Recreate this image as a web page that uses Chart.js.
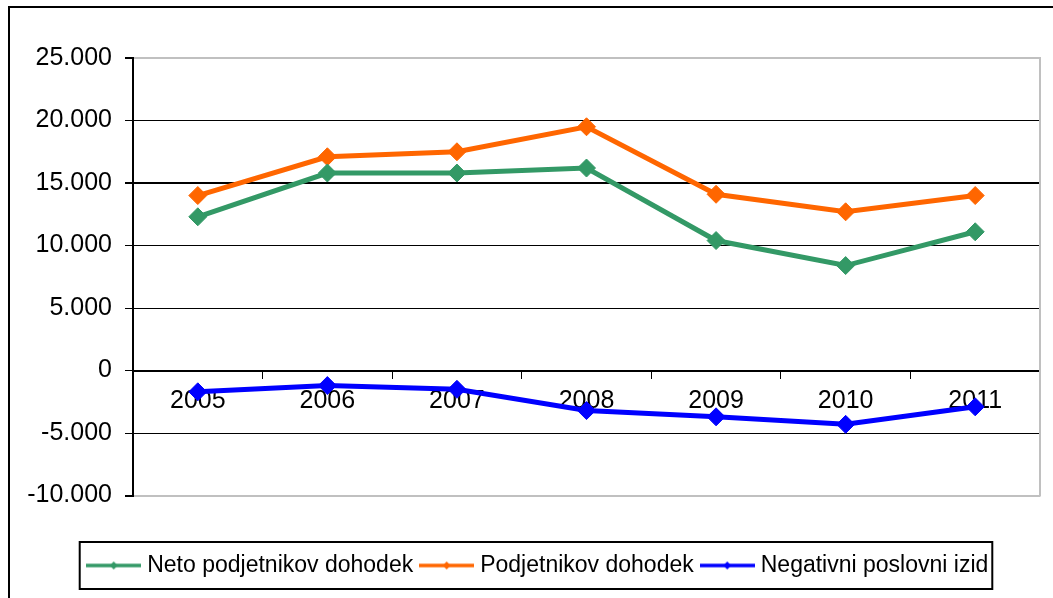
<!DOCTYPE html>
<html>
<head>
<meta charset="utf-8">
<script src="https://cdn.jsdelivr.net/npm/chart.js@4"></script>
<style>
    html, body { margin: 0; padding: 0; background: #fff; }
    #frame {
        position: absolute; left: 8px; top: 6px; width: 1045px; height: 592px;
        border-left: 2px solid #000; border-top: 2px solid #000;
    }
    #chart { display: block; }
</style>
</head>
<body>
<div id="frame"><canvas id="chart" width="1043" height="590"></canvas></div>
<script>
const years   = ['2005', '2006', '2007', '2008', '2009', '2010', '2011'];
const neto    = [12300, 15800, 15800, 16200, 10400, 8400, 11100];
const podj    = [14000, 17100, 17500, 19500, 14100, 12700, 14000];
const negIzid = [-1700, -1200, -1500, -3200, -3700, -4300, -2900];

const seriesNames  = ['Neto podjetnikov dohodek', 'Podjetnikov dohodek', 'Negativni poslovni izid'];
const seriesColors = ['#339966', '#FF6600', '#0000FF'];

Chart.defaults.font.family = '"Liberation Sans", Arial, sans-serif';
Chart.defaults.color = '#000';

// "line + diamond" swatch for the legend
function swatch(color) {
    const c = document.createElement('canvas');
    c.width = 55; c.height = 10;
    const g = c.getContext('2d');
    g.strokeStyle = color; g.lineWidth = 3.5;
    g.beginPath(); g.moveTo(0, 5); g.lineTo(55, 5); g.stroke();
    g.fillStyle = color;
    g.beginPath(); g.moveTo(27.5, 1); g.lineTo(31.5, 5); g.lineTo(27.5, 9); g.lineTo(23.5, 5); g.closePath(); g.fill();
    return c;
}

const fmt = v => v.toLocaleString('de-DE');

function lineSet(i, data) {
    return {
        label: seriesNames[i],
        data,
        borderColor: seriesColors[i],
        backgroundColor: seriesColors[i],
        borderWidth: 5,
        pointStyle: 'rectRot',
        pointRadius: 9,
        pointHoverRadius: 9,
        pointBorderWidth: 1,
        tension: 0,
    };
}

const LEGEND_NUDGE = 7;

// right edge of the plot frame + box round the legend
const frames = {
    id: 'frames',
    afterLayout(chart) {
        // nudge the legend a little to the right, like the original
        const lg = chart.legend;
        if (!lg) return;
        lg.left += LEGEND_NUDGE; lg.right += LEGEND_NUDGE;
        for (const hb of lg.legendHitBoxes || []) hb.left += LEGEND_NUDGE;
    },
    beforeDatasetsDraw(chart) {
        const { ctx, chartArea } = chart;
        ctx.save();
        ctx.strokeStyle = '#C0C0C0'; ctx.lineWidth = 2;
        ctx.beginPath();
        ctx.moveTo(chartArea.right, chartArea.top - 1);
        ctx.lineTo(chartArea.right, chartArea.bottom + 1);
        ctx.stroke();
        ctx.restore();
    },
    afterDraw(chart) {
        const boxes = chart.legend && chart.legend.legendHitBoxes;
        if (!boxes || !boxes.length) return;
        const first = boxes[0], last = boxes[boxes.length - 1];
        const { ctx } = chart;
        const l = first.left - 12, r = last.left + last.width + 4;
        const t = first.top - 12, b = first.top + first.height + 12;
        ctx.save();
        ctx.strokeStyle = '#000'; ctx.lineWidth = 2;
        ctx.strokeRect(l, t, r - l, b - t);
        ctx.restore();
    },
};

new Chart(document.getElementById('chart'), {
    type: 'line',
    data: {
        labels: years,
        datasets: [lineSet(0, neto), lineSet(1, podj), lineSet(2, negIzid)],
    },
    options: {
        responsive: false,
        animation: false,
        layout: { padding: { left: 16, right: 13, top: 50, bottom: 11 } },
        plugins: {
            tooltip: { enabled: false },
            legend: {
                position: 'bottom',
                title: { display: true, text: '', padding: { top: 32.5, bottom: 0 } },
                labels: {
                    font: { size: 23 },
                    color: '#000',
                    usePointStyle: true,
                    pointStyleWidth: 44,
                    padding: 11.5,
                    generateLabels(chart) {
                        return chart.data.datasets.map((ds, i) => ({
                            text: ds.label,
                            pointStyle: swatch(ds.borderColor),
                            datasetIndex: i,
                            lineWidth: 0,
                            fontColor: '#000',
                            hidden: false,
                        }));
                    },
                },
            },
        },
        scales: {
            x: {
                position: { y: 0 },
                offset: true,
                border: { color: '#000', width: 2 },
                grid: { drawOnChartArea: false, drawTicks: true, tickLength: 7, tickColor: '#000', offset: true },
                ticks: { font: { size: 25 }, color: '#000', padding: 9, maxRotation: 0 },
            },
            y: {
                min: -10000,
                max: 25000,
                afterFit: s => { s.width = 107; },
                border: { color: '#000', width: 2 },
                grid: {
                    color: ctx => (ctx.tick && (ctx.tick.value === 25000 || ctx.tick.value === -10000)) ? '#C0C0C0' : '#000',
                    lineWidth: ctx => {
                        if (!ctx.tick) return 1;
                        const v = ctx.tick.value;
                        if (v === 25000 || v === -10000 || v === 15000) return 2;
                        return 1;
                    },
                    tickLength: 8,
                    tickColor: '#000',
                },
                ticks: { stepSize: 5000, font: { size: 25 }, color: '#000', padding: 13, callback: v => fmt(v) },
            },
        },
    },
    plugins: [frames],
});
</script>
</body>
</html>
